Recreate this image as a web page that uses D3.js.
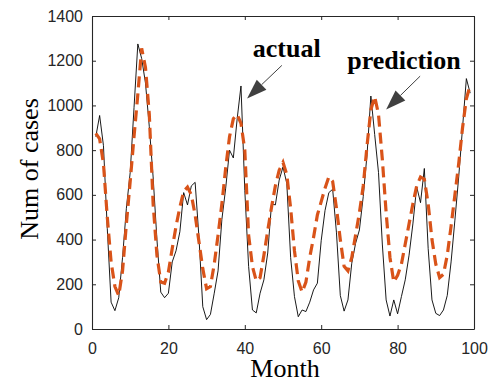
<!DOCTYPE html>
<html><head><meta charset="utf-8">
<script src="https://cdn.jsdelivr.net/npm/d3@7"></script>
<style>body{margin:0;background:#fff;} svg{display:block}</style>
</head><body><svg id="c" width="496" height="382"></svg>
<script>
const months = [1,2,3,4,5,6,7,8,9,10,11,12,13,14,15,16,17,18,19,20,21,22,23,24,25,26,27,28,29,30,31,32,33,34,35,36,37,38,39,40,41,42,43,44,45,46,47,48,49,50,51,52,53,54,55,56,57,58,59,60,61,62,63,64,65,66,67,68,69,70,71,72,73,74,75,76,77,78,79,80,81,82,83,84,85,86,87,88,89,90,91,92,93,94,95,96,97,98,99];
const actual = [860,955,820,450,120,82,140,320,540,700,990,1275,1210,1100,905,680,400,165,140,160,300,350,435,610,555,640,656,410,100,42,65,160,260,490,630,800,765,940,1087,620,280,85,72,160,220,340,560,555,666,725,650,320,145,55,85,78,120,175,205,395,530,610,625,430,150,80,130,294,383,443,592,780,1042,870,700,380,130,58,130,68,145,220,330,470,636,565,718,360,130,70,60,85,150,300,487,681,900,1120,1055];
const prediction = [875,850,740,500,300,190,150,260,470,660,860,1050,1255,1170,960,560,330,210,205,255,360,460,545,615,635,600,510,390,270,180,190,290,420,560,720,860,940,960,920,800,420,280,215,230,330,440,545,640,710,745,690,540,350,215,165,210,320,410,510,570,630,680,660,540,400,280,260,320,420,520,640,820,980,1040,960,760,520,320,210,240,290,380,470,560,640,680,670,560,400,290,230,245,330,460,600,740,900,1030,1090];
const xTicks = [0,20,40,60,80,100];
const yTicks = [0,200,400,600,800,1000,1200,1400];
const xLabel = "Month";
const yLabel = "Num of cases";
const annoText = ["actual","prediction"];
const annoTextPos = [[42.1,1216],[66.8,1161]];
const annoArrow = [[[49.7,1179],[40.6,1031]],[[85.9,1131],[77.0,982]]];

const svg = d3.select("#c");
const x = d3.scaleLinear().domain([0,100]).range([92,474]);
const y = d3.scaleLinear().domain([0,1400]).range([329,16]);
const axisColor = "#262626";
const fmt = d3.format("d");

// series
const line = d3.line().x((d,i)=>x(months[i])).y(d=>y(d));
svg.append("path").datum(actual).attr("d",line)
  .attr("fill","none").attr("stroke","#000").attr("stroke-width",0.9);
svg.append("path").datum(prediction).attr("d",line)
  .attr("fill","none").attr("stroke","#D95319").attr("stroke-width",3.2)
  .attr("stroke-dasharray","11,6");

function styleAxis(g){
  g.selectAll("path.domain").attr("stroke",axisColor).attr("stroke-width",1.1);
  g.selectAll(".tick line").attr("stroke",axisColor).attr("stroke-width",1);
  g.selectAll("text").attr("fill",axisColor).attr("font-family","'Liberation Sans', Arial, Helvetica, sans-serif").attr("font-size","16px");
}
const gx = svg.append("g").attr("transform","translate(0,329)")
  .call(d3.axisBottom(x).tickValues(xTicks).tickFormat(fmt).tickSize(-4).tickSizeOuter(0).tickPadding(13.5));
styleAxis(gx);
const gxt = svg.append("g").attr("transform","translate(0,16)")
  .call(d3.axisTop(x).tickValues(xTicks).tickSize(-4).tickSizeOuter(0).tickFormat(""));
styleAxis(gxt);
const gy = svg.append("g").attr("transform","translate(92,0)")
  .call(d3.axisLeft(y).tickValues(yTicks).tickFormat(fmt).tickSize(-4).tickSizeOuter(0).tickPadding(9));
styleAxis(gy);
const gyr = svg.append("g").attr("transform","translate(474,0)")
  .call(d3.axisRight(y).tickValues(yTicks).tickSize(-4).tickSizeOuter(0).tickFormat(""));
styleAxis(gyr);
svg.selectAll("path.domain").attr("fill","none");

// labels
svg.append("text").attr("x",285).attr("y",377).attr("text-anchor","middle")
  .attr("font-family","'Liberation Serif','Times New Roman',serif").attr("font-size","26px")
  .attr("fill","#000").text(xLabel);
svg.append("text").attr("transform","translate(38,169) rotate(-90)").attr("text-anchor","middle")
  .attr("font-family","'Liberation Serif','Times New Roman',serif").attr("font-size","26px")
  .attr("fill","#000").text(yLabel);

// annotations
annoText.forEach((t,i)=>{
  svg.append("text").attr("x",x(annoTextPos[i][0])).attr("y",y(annoTextPos[i][1]))
    .attr("font-family","'Liberation Serif','Times New Roman',serif").attr("font-weight","bold")
    .attr("font-size","26px").attr("fill","#000").text(t);
  const [p0,p1] = annoArrow[i];
  const x0=x(p0[0]), y0=y(p0[1]), x1=x(p1[0]), y1=y(p1[1]);
  const dx=x1-x0, dy=y1-y0, L=Math.hypot(dx,dy), ux=dx/L, uy=dy/L;
  const hl=20, hw=7;
  const bx=x1-ux*hl, by=y1-uy*hl;
  svg.append("line").attr("x1",x0).attr("y1",y0).attr("x2",bx).attr("y2",by)
    .attr("stroke","#404040").attr("stroke-width",1);
  svg.append("path").attr("d",`M${x1},${y1}L${bx-uy*hw},${by+ux*hw}L${bx+uy*hw},${by-ux*hw}Z`)
    .attr("fill","#404040");
});
</script>
</body></html>
